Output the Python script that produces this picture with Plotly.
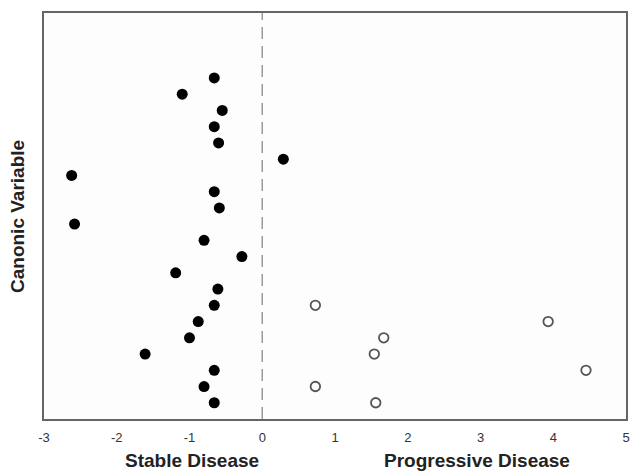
import plotly.graph_objects as go

# Stable disease cases (filled): row index (canonic variable order) and canonical score
stable_rows = [21, 20, 19, 18, 17, 16, 15, 14, 13, 12, 11, 10, 9, 8, 7, 6, 5, 4, 3, 2, 1]
stable_scores = [-0.66, -1.10, -0.55, -0.66, -0.60, 0.29, -2.62, -0.66, -0.59, -2.58,
                 -0.80, -0.28, -1.19, -0.61, -0.66, -0.88, -1.00, -1.61, -0.66, -0.80, -0.66]

# Progressive disease cases (open)
prog_rows = [7, 6, 5, 4, 3, 2, 1]
prog_scores = [0.73, 3.93, 1.67, 1.54, 4.45, 0.73, 1.56]

x_ticks = [-3, -2, -1, 0, 1, 2, 3, 4, 5]
x_tick_text = ["-3", "-2", "-1", "0", "1", "2", "3", "4", "5"]
group_labels = ["Stable Disease", "Progressive Disease"]
group_label_x = [-0.97, 2.95]

FONT = "Liberation Sans, Arial, sans-serif"

fig = go.Figure()
fig.add_trace(go.Scatter(
    x=stable_scores, y=stable_rows, mode="markers",
    marker=dict(size=11, color="black", line=dict(width=0)),
    showlegend=False))
fig.add_trace(go.Scatter(
    x=prog_scores, y=prog_rows, mode="markers",
    marker=dict(size=9.5, color="white", line=dict(width=1.8, color="#555555")),
    showlegend=False))

fig.add_vline(x=0, line=dict(color="#999999", width=1.5, dash="12px,7px"))

for lab, xx in zip(group_labels, group_label_x):
    fig.add_annotation(x=xx, xref="x", y=-0.103, yref="paper", text="<b>%s</b>" % lab,
                       showarrow=False, font=dict(family=FONT, size=19, color="#222222"),
                       yanchor="middle", xanchor="center")

fig.add_annotation(x=-0.0464, xref="paper", y=0.5, yref="paper", text="<b>Canonic Variable</b>",
                   textangle=-90, showarrow=False, xanchor="center", yanchor="middle",
                   font=dict(family=FONT, size=19, color="#222222"))

fig.update_xaxes(range=[-3, 5], tickvals=x_ticks, ticktext=x_tick_text,
                 ticks="outside", ticklen=6, tickcolor="rgba(0,0,0,0)",
                 showgrid=False, zeroline=False, automargin=False,
                 showline=True, linecolor="#666666", linewidth=1.5, mirror=True,
                 tickfont=dict(family=FONT, size=13, color="#333333"))
fig.update_yaxes(range=[0, 25], showticklabels=False, ticks="", showgrid=False, zeroline=False,
                 automargin=False,
                 showline=True, linecolor="#666666", linewidth=1.5, mirror=True)

fig.update_layout(width=630, height=473, margin=dict(l=44, r=4, t=13, b=54, autoexpand=False),
                  plot_bgcolor="#fdfdfd", paper_bgcolor="white")
fig.write_html("out.html", config={"displayModeBar": False},
               post_script="document.body.style.margin='0';document.body.style.overflow='hidden';")
